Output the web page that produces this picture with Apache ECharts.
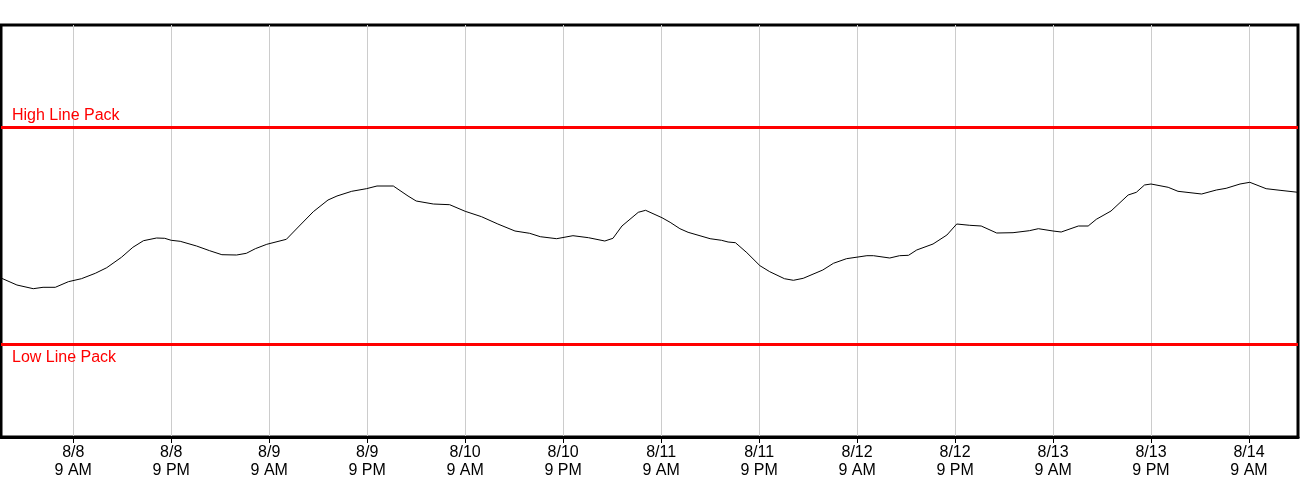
<!DOCTYPE html>
<html>
<head>
<meta charset="utf-8">
<script src="https://cdn.jsdelivr.net/npm/echarts@6/dist/echarts.min.js"></script>
<style>
html,body{margin:0;padding:0;background:#fff;}
#chart{width:1300px;height:500px;}
</style>
</head>
<body>
<div id="chart"></div>
<script>
// Hours since 8/8 00:00
const hours = [0.15,2.1,4.1,5.3,6.8,8.4,10.0,11.7,13.1,14.9,16.3,17.6,19.2,20.2,21.0,22.1,24.1,25.7,27.2,29.0,30.2,31.3,32.7,35.1,36.8,38.4,40.2,41.3,43.1,44.9,46.2,48.2,50.0,51.0,53.1,55.1,57.0,59.0,61.0,63.1,64.9,66.2,68.2,70.2,72.1,74.1,75.1,76.2,78.2,79.1,81.1,82.1,83.3,84.3,87.0,88.4,89.2,90.1,91.5,93.1,94.3,96.1,97.2,98.4,100.8,102.1,103.7,106.2,107.0,109.0,110.2,111.3,112.3,114.3,116.0,117.2,118.8,120.2,122.1,124.1,126.1,127.2,129.0,130.0,132.1,133.3,134.3,136.1,138.2,139.2,140.2,141.0,143.1,144.3,147.2,149.0,150.2,151.9,153.1,155.1,156.8,159.0];
const linePack = [159,152,148.3,149.7,149.7,155.3,158.3,163.7,169.3,179.7,189.7,196.3,199,198.7,196.7,195.7,191,186.3,182.3,182,183.7,188.3,192.7,197.7,212,225.3,237,241,245.7,248.3,251,251,241,236,233,232.3,225.7,220.3,213,206,203.7,200.3,198.3,201.3,199.3,196,198.7,211,224.7,226.7,219.3,214.7,208.3,204.7,198.3,196.7,195,194.3,184.3,171.3,165.3,158.3,156.7,158.7,167,173.7,178.3,181.3,181.3,179,181.3,181.7,187,193,202,213,211.7,211,204,204.3,206.3,208.3,206,205,211,211,217.7,226,242,244.7,252,253,249.7,245.7,243,247,248.7,253,254.7,248.3,246.7,244.7];
const highLinePack = 309.5;
const lowLinePack = 93;
const tickHours = [9,21,33,45,57,69,81,93,105,117,129,141,153];
const xMin = 0.15, xMax = 159.0;
const yMin = 0, yMax = 412;

function tickLabel(h){
  const day = 8 + Math.floor(h / 24);
  const hr = h % 24;
  const ampm = hr >= 12 ? 'PM' : 'AM';
  let h12 = hr % 12; if (h12 === 0) h12 = 12;
  return '8/' + day + '\n' + h12 + ' ' + ampm;
}

const chart = echarts.init(document.getElementById('chart'));
chart.setOption({
  animation: false,
  backgroundColor: '#fff',
  grid: {left: 1, top: 25, right: 2, bottom: 63, show: true, borderColor: '#000', borderWidth: 3, backgroundColor: 'transparent'},
  xAxis: {
    type: 'value', min: xMin, max: xMax,
    axisLine: {show: true, lineStyle: {color: '#000', width: 3}},
    axisTick: {show: true, customValues: tickHours, length: 6, lineStyle: {color: '#000', width: 1}},
    axisLabel: {customValues: tickHours, formatter: v => tickLabel(v), color: '#000', fontSize: 16, lineHeight: 18, margin: 7, fontFamily: 'Liberation Sans, Arial, sans-serif'},
    splitLine: {show: true, lineStyle: {color: '#cccccc', width: 1}}
  },
  yAxis: {type: 'value', min: yMin, max: yMax, show: false, splitLine: {show: false}},
  series: [{
    type: 'line',
    data: hours.map((h, i) => [h, linePack[i]]),
    showSymbol: false,
    lineStyle: {color: '#000', width: 1},
    itemStyle: {color: '#000'},
    z: 3,
    markLine: {
      silent: true,
      symbol: 'none',
      lineStyle: {color: '#ff0000', width: 3, type: 'solid'},
      label: {color: '#ff0000', fontSize: 16, fontFamily: 'Liberation Sans, Arial, sans-serif'},
      data: [
        {yAxis: highLinePack, label: {formatter: 'High Line Pack', position: 'insideStartTop', distance: [11, 4]}},
        {yAxis: lowLinePack, label: {formatter: 'Low Line Pack', position: 'insideStartBottom', distance: [11, 6]}}
      ]
    }
  }]
});
</script>
</body>
</html>
